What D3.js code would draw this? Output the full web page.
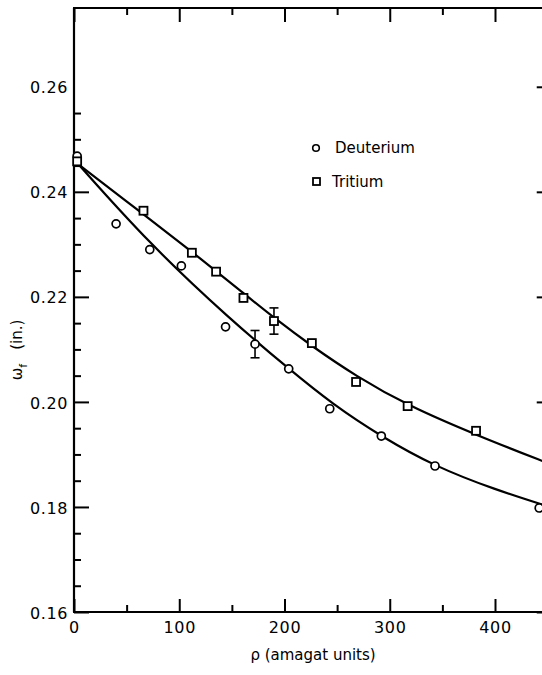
<!DOCTYPE html>
<html>
<head>
<meta charset="utf-8">
<script src="https://cdn.jsdelivr.net/npm/d3@7"></script>
<style>
body { margin: 0; background: #fff; }
svg { display: block; font-family: "DejaVu Sans", sans-serif; }
.axis path, .axis line { stroke: #000; stroke-width: 2; }
</style>
</head>
<body>
<script>
// measured points (amagat units, inches)
var deutRho = [3, 40, 72, 102, 144, 172, 204, 243, 292, 343, 442];
var deutW   = [0.2468, 0.2339, 0.2290, 0.2259, 0.2143, 0.2110, 0.2063, 0.1987, 0.1935, 0.1878, 0.1798];
var tritRho = [3, 66, 112, 135, 161, 190, 226, 268, 317, 382];
var tritW   = [0.2458, 0.2364, 0.2284, 0.2248, 0.2198, 0.2154, 0.2112, 0.2038, 0.1992, 0.1945];

// error bars (one on each series)
var errRho = [172, 190];
var errW   = [0.2110, 0.2154];
var errH   = [0.0026, 0.0025];

// fitted curves
var deutCurveRho = [0, 72, 148, 204, 246, 292, 343, 400, 452];
var deutCurveW   = [0.2462, 0.2300, 0.2158, 0.2063, 0.1995, 0.1934, 0.1877, 0.1833, 0.1800];
var tritCurveRho = [0, 66, 112, 161, 190, 226, 268, 317, 382, 452];
var tritCurveW   = [0.2459, 0.2357, 0.2286, 0.2207, 0.2160, 0.2106, 0.2049, 0.1993, 0.1937, 0.1882];

var xMajor = [0, 100, 200, 300, 400];
var yMajor = [0.16, 0.18, 0.20, 0.22, 0.24, 0.26];

var W = 542, H = 675;
var margin = {top: 8, left: 74};

var x = d3.scaleLinear().domain([0, 452]).range([margin.left, margin.left + 452 * 1.0525]);
var y = d3.scaleLinear().domain([0.16, 0.275]).range([612, margin.top]);

var svg = d3.select("body").append("svg")
    .attr("width", W)
    .attr("height", H);

var xMinor = d3.range(0, 451, 50).filter(function(d) { return d % 100 != 0; });
var yMinor = d3.range(0, 20).map(function(i) { return +(0.16 + i * 0.005).toFixed(3); })
    .filter(function(d) { return yMajor.indexOf(d) < 0; });

function style(g) {
  g.attr("font-family", "DejaVu Sans, sans-serif").attr("font-size", 16);
  g.selectAll("text").attr("fill", "#000").attr("letter-spacing", 0.6);
}

// bottom axis
svg.append("g").attr("class", "axis")
    .attr("transform", "translate(0,612)")
    .call(d3.axisBottom(x).tickValues(xMajor).tickSizeInner(-13).tickSizeOuter(0).tickPadding(6)
      .tickFormat(d3.format("d")))
    .call(style)
    .selectAll("text").attr("dy", "1em").attr("y", 5);
svg.append("g").attr("class", "axis")
    .attr("transform", "translate(0,612)")
    .call(d3.axisBottom(x).tickValues(xMinor).tickSizeInner(-7).tickSizeOuter(0).tickFormat(""));

// top axis
svg.append("g").attr("class", "axis")
    .attr("transform", "translate(0," + margin.top + ")")
    .call(d3.axisTop(x).tickValues(xMajor).tickSizeInner(-14).tickSizeOuter(0).tickFormat(""));
svg.append("g").attr("class", "axis")
    .attr("transform", "translate(0," + margin.top + ")")
    .call(d3.axisTop(x).tickValues(xMinor).tickSizeInner(-7).tickSizeOuter(0).tickFormat(""));

// left axis
var yl = svg.append("g").attr("class", "axis")
    .attr("transform", "translate(" + margin.left + ",0)")
    .call(d3.axisLeft(y).tickValues(yMajor).tickSizeInner(-15).tickSizeOuter(0)
      .tickFormat(d3.format(".2f")))
    .call(style);
yl.selectAll(".tick text").attr("x", -6).attr("dy", "0.38em");
yl.selectAll(".tick").filter(function(d) { return d > 0.25; }).select("line").remove();
svg.append("g").attr("class", "axis")
    .attr("transform", "translate(" + margin.left + ",0)")
    .call(d3.axisLeft(y).tickValues(yMinor.filter(function(d) { return d < 0.258; }))
      .tickSizeInner(-7).tickSizeOuter(0).tickFormat(""));

// right axis (mostly off the page)
svg.append("g").attr("class", "axis")
    .attr("transform", "translate(" + x(452) + ",0)")
    .call(d3.axisRight(y).tickValues(yMajor).tickSizeInner(-13).tickSizeOuter(0).tickFormat(""));

svg.selectAll(".axis .domain").remove();
// frame
svg.append("line").attr("x1", x(0)).attr("x2", x(0)).attr("y1", y(0.275)).attr("y2", y(0.16))
    .attr("stroke", "#000").attr("stroke-width", 2.2);
svg.append("line").attr("x1", x(0) - 1).attr("x2", x(452)).attr("y1", y(0.16)).attr("y2", y(0.16))
    .attr("stroke", "#000").attr("stroke-width", 2.2);
svg.append("line").attr("x1", x(0) - 1).attr("x2", x(452)).attr("y1", y(0.275)).attr("y2", y(0.275))
    .attr("stroke", "#000").attr("stroke-width", 2.2);

// curves
var line = d3.line()
    .x(function(d) { return x(d[0]); })
    .y(function(d) { return y(d[1]); })
    .curve(d3.curveBasis);

svg.append("path")
    .datum(d3.zip(deutCurveRho, deutCurveW))
    .attr("d", line)
    .attr("fill", "none").attr("stroke", "#000").attr("stroke-width", 2.2);
svg.append("path")
    .datum(d3.zip(tritCurveRho, tritCurveW))
    .attr("d", line)
    .attr("fill", "none").attr("stroke", "#000").attr("stroke-width", 2.2);

// error bars
var eb = svg.selectAll(".err").data(d3.zip(errRho, errW, errH)).enter().append("g")
    .attr("class", "err").attr("stroke", "#000").attr("stroke-width", 1.6);
eb.append("line")
    .attr("x1", function(d) { return x(d[0]); }).attr("x2", function(d) { return x(d[0]); })
    .attr("y1", function(d) { return y(d[1] + d[2]); }).attr("y2", function(d) { return y(d[1] - d[2]); });
eb.append("line")
    .attr("x1", function(d) { return x(d[0]) - 4.5; }).attr("x2", function(d) { return x(d[0]) + 4.5; })
    .attr("y1", function(d) { return y(d[1] + d[2]); }).attr("y2", function(d) { return y(d[1] + d[2]); });
eb.append("line")
    .attr("x1", function(d) { return x(d[0]) - 4.5; }).attr("x2", function(d) { return x(d[0]) + 4.5; })
    .attr("y1", function(d) { return y(d[1] - d[2]); }).attr("y2", function(d) { return y(d[1] - d[2]); });

// markers
svg.selectAll(".deut").data(d3.zip(deutRho, deutW)).enter().append("circle")
    .attr("class", "deut")
    .attr("cx", function(d) { return x(d[0]); })
    .attr("cy", function(d) { return y(d[1]); })
    .attr("r", 4)
    .attr("fill", "#fff").attr("stroke", "#000").attr("stroke-width", 1.7);

svg.selectAll(".trit").data(d3.zip(tritRho, tritW)).enter().append("rect")
    .attr("class", "trit")
    .attr("x", function(d) { return x(d[0]) - 4; })
    .attr("y", function(d) { return y(d[1]) - 4; })
    .attr("width", 8).attr("height", 8)
    .attr("fill", "#fff").attr("stroke", "#000").attr("stroke-width", 1.8);

// legend
svg.append("circle").attr("cx", 316).attr("cy", 148).attr("r", 3.3)
    .attr("fill", "#fff").attr("stroke", "#000").attr("stroke-width", 1.6);
svg.append("text").attr("x", 335).attr("y", 153).attr("font-size", 15).text("Deuterium");
svg.append("rect").attr("x", 313).attr("y", 178).attr("width", 7).attr("height", 7)
    .attr("fill", "#fff").attr("stroke", "#000").attr("stroke-width", 1.8);
svg.append("text").attr("x", 332).attr("y", 187).attr("font-size", 15).text("Tritium");

// axis titles
svg.append("text").attr("x", 313).attr("y", 660).attr("text-anchor", "middle")
    .attr("font-size", 15).text("\u03c1 (amagat units)");

var yt = svg.append("text")
    .attr("transform", "translate(22,350) rotate(-90)")
    .attr("text-anchor", "middle").attr("font-size", 15);
yt.append("tspan").text("\u03c9");
yt.append("tspan").attr("font-size", 11).attr("dy", 5).text("f");
yt.append("tspan").attr("dy", -5).attr("dx", 14).text("(in.)");
</script>
</body>
</html>
